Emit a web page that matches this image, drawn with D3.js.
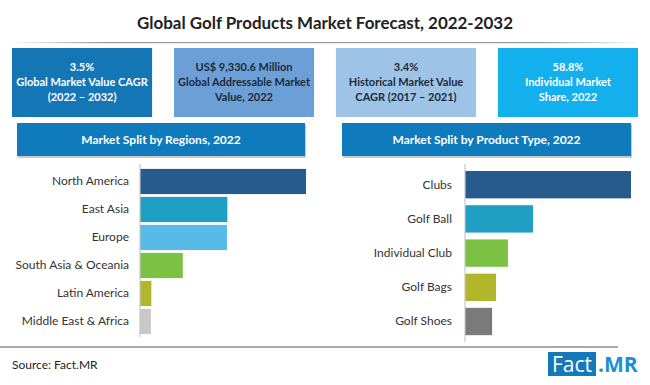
<!DOCTYPE html>
<html lang="en">
<head>
  <meta charset="UTF-8">
  <title>Global Golf Products Market Forecast, 2022-2032</title>
  <script src="https://d3js.org/d3.v7.min.js"></script>
  <style>
    body {
      margin: 0;
      background: #fff;
      font-family: Lato, "Open Sans", Arial, sans-serif;
    }
  </style>
</head>
<body>
  <script>
    // Chart data
    const regions = ["North America", "East Asia", "Europe", "South Asia & Oceania", "Latin America", "Middle East & Africa"];
    const regionValues = [38.0, 20.0, 19.9, 9.8, 2.6, 2.5];
    const regionColors = ["#275b8e", "#1f9fc3", "#58bbe7", "#7bc144", "#b2b62a", "#c8c8c8"];

    const products = ["Clubs", "Golf Ball", "Individual Club", "Golf Bags", "Golf Shoes"];
    const productValues = [58.8, 24.1, 15.2, 11.0, 9.6];
    const productColors = ["#275b8e", "#1f9fc3", "#7bc144", "#b2b62a", "#7a7a7a"];

    // Key figure boxes
    const boxLines = [
      ["3.5%", "Global Market Value CAGR", "(2022 \u2013 2032)"],
      ["US$ 9,330.6 Million", "Global Addressable Market", "Value, 2022"],
      ["3.4%", "Historical Market Value", "CAGR (2017 \u2013 2021)"],
      ["58.8%", "Individual Market", "Share, 2022"]
    ];
    const boxFill = ["#1576b6", "#6b9fd6", "#9dc3e6", "#14afed"];
    const boxText = ["#ffffff", "#1d2a3a", "#1d2a3a", "#ffffff"];

    const W = 650, H = 385;

    const svg = d3.select("body")
      .append("svg")
      .attr("width", W)
      .attr("height", H);

    const defs = svg.append("defs");
    const grad = defs.append("linearGradient").attr("id", "titleLine");
    grad.append("stop").attr("offset", "0%").attr("stop-color", "#999").attr("stop-opacity", 0);
    grad.append("stop").attr("offset", "15%").attr("stop-color", "#999").attr("stop-opacity", 1);
    grad.append("stop").attr("offset", "85%").attr("stop-color", "#999").attr("stop-opacity", 1);
    grad.append("stop").attr("offset", "100%").attr("stop-color", "#999").attr("stop-opacity", 0);

    // Title
    svg.append("text")
      .attr("x", 325)
      .attr("y", 29)
      .attr("text-anchor", "middle")
      .attr("textLength", 376)
      .attr("lengthAdjust", "spacingAndGlyphs")
      .style("font-size", "17px")
      .style("font-weight", "bold")
      .style("fill", "#222")
      .text("Global Golf Products Market Forecast, 2022-2032");

    svg.append("rect")
      .attr("x", 10)
      .attr("y", 42)
      .attr("width", 630)
      .attr("height", 1.2)
      .attr("fill", "url(#titleLine)");

    // Key figure boxes
    const boxX = d3.scaleBand().domain(d3.range(4)).range([12, 638]).paddingInner(0.135);

    const boxes = svg.selectAll(".kbox")
      .data(boxLines)
      .enter()
      .append("g")
      .attr("class", "kbox");

    boxes.append("rect")
      .attr("x", (d, i) => boxX(i))
      .attr("y", 48)
      .attr("width", boxX.bandwidth())
      .attr("height", 69)
      .attr("fill", (d, i) => boxFill[i]);

    boxes.each(function (lines, i) {
      const g = d3.select(this);
      lines.forEach((t, j) => {
        g.append("text")
          .attr("x", boxX(i) + boxX.bandwidth() / 2)
          .attr("y", 71 + j * 15)
          .attr("text-anchor", "middle")
          .style("font-size", "11px")
          .style("font-weight", "bold")
          .style("fill", boxText[i])
          .text(t);
      });
    });

    // Panels
    function drawPanel(opt) {
      const g = svg.append("g");

      // header bar
      g.append("rect")
        .attr("x", opt.hx0 + 1)
        .attr("y", 125)
        .attr("width", opt.hx1 - opt.hx0)
        .attr("height", 33)
        .attr("fill", "#c9c9c9");
      g.append("rect")
        .attr("x", opt.hx0)
        .attr("y", 123)
        .attr("width", opt.hx1 - opt.hx0)
        .attr("height", 33)
        .attr("fill", "#0f7bbc");
      g.append("text")
        .attr("x", (opt.hx0 + opt.hx1) / 2)
        .attr("y", 144)
        .attr("text-anchor", "middle")
        .style("font-size", "12px")
        .style("font-weight", "bold")
        .style("fill", "#fff")
        .text(opt.title);

      const x = d3.scaleLinear()
        .domain([0, d3.max(opt.values)])
        .range([opt.x0, opt.x1]);

      const y = d3.scaleBand()
        .domain(opt.cats)
        .range(opt.yRange)
        .paddingInner(opt.padIn)
        .paddingOuter(opt.padOut);

      g.selectAll(".bar")
        .data(opt.cats)
        .enter()
        .append("rect")
        .attr("class", "bar")
        .attr("x", x(0))
        .attr("y", d => y(d))
        .attr("width", (d, i) => x(opt.values[i]) - x(0))
        .attr("height", y.bandwidth())
        .attr("fill", (d, i) => opt.colors[i]);

      const axis = g.append("g")
        .attr("transform", `translate(${x(0)},0)`)
        .call(d3.axisLeft(y).tickSize(0).tickPadding(opt.x0 - opt.labelX));
      axis.select(".domain")
        .attr("stroke", "#c8c8c8")
        .attr("stroke-width", 1.2)
        .attr("d", `M0,${opt.axisY[0]}V${opt.axisY[1]}`);
      axis.selectAll("text")
        .style("font-family", "Lato, 'Open Sans', Arial, sans-serif")
        .style("font-size", "12px")
        .style("fill", "#333");
    }

    drawPanel({
      title: "Market Split by Regions, 2022",
      hx0: 17, hx1: 305,
      cats: regions, values: regionValues, colors: regionColors,
      x0: 140, x1: 306, labelX: 129,
      yRange: [167.5, 335.5], padIn: 0.1, padOut: 0.05,
      axisY: [164, 337]
    });

    drawPanel({
      title: "Market Split by Product Type, 2022",
      hx0: 342, hx1: 631,
      cats: products, values: productValues, colors: productColors,
      x0: 465, x1: 631, labelX: 452,
      yRange: [167.6, 338.6], padIn: 0.2, padOut: 0.1,
      axisY: [164, 342]
    });

    // Footer
    svg.append("line")
      .attr("x1", 0)
      .attr("x2", 618)
      .attr("y1", 347)
      .attr("y2", 347)
      .attr("stroke", "#555")
      .attr("stroke-width", 1);

    svg.append("text")
      .attr("x", 12)
      .attr("y", 369)
      .style("font-size", "12px")
      .style("fill", "#222")
      .text("Source: Fact.MR");

    svg.append("rect")
      .attr("x", 548)
      .attr("y", 352)
      .attr("width", 48)
      .attr("height", 24)
      .attr("fill", "#1479b8");
    svg.append("text")
      .attr("x", 572)
      .attr("y", 372)
      .attr("text-anchor", "middle")
      .style("font-family", "'Open Sans', Arial, sans-serif")
      .style("font-size", "21px")
      .style("fill", "#fff")
      .text("Fact");
    svg.append("text")
      .attr("x", 598)
      .attr("y", 372)
      .style("font-family", "'Open Sans', Arial, sans-serif")
      .style("font-size", "21px")
      .style("font-weight", "bold")
      .style("fill", "#1a8fd6")
      .text(".MR");
  </script>
</body>
</html>
